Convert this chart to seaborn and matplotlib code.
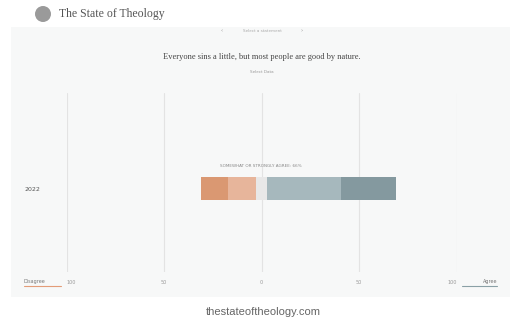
import matplotlib
matplotlib.use("Agg")
import matplotlib.pyplot as plt
import seaborn as sns
import pandas as pd
from matplotlib.patches import Rectangle, Ellipse
from matplotlib.lines import Line2D

# ---- data ----
years = ["2022"]
segments = ["Strongly disagree", "Somewhat disagree", "Not sure", "Somewhat agree", "Strongly agree"]
values = [14, 14, 6, 38, 28]
colors = ["#da9872", "#e7b59b", "#e8e8e8", "#a6b8bd", "#84999f"]
xticks = [-100, -50, 0, 50, 100]
xtick_labels = ["100", "50", "0", "50", "100"]
title = "Everyone sins a little, but most people are good by nature."
annotation = "SOMEWHAT OR STRONGLY AGREE: 66%"

sns.set_theme(style="white")
plt.rcParams["font.family"] = ["DejaVu Sans"]

W, H = 513, 324
fig = plt.figure(figsize=(W / 100, H / 100), dpi=100)
fig.patch.set_facecolor("white")


def fx(px):
    return px / W


def fy(py):
    return 1 - py / H


# panel background
fig.patches.append(Rectangle((fx(11), fy(297)), fx(510) - fx(11), fy(27) - fy(297),
                             transform=fig.transFigure, facecolor="#f7f8f8",
                             edgecolor="none", zorder=-5))

# header
fig.patches.append(Ellipse((fx(43), fy(14)), 16 / W, 16 / H, transform=fig.transFigure,
                           facecolor="#9a9a9a", edgecolor="none", zorder=-4))
fig.text(fx(59), fy(14), "The State of Theology", family="Liberation Serif",
         fontsize=8.5, color="#555555", va="center", ha="left")

# selector row
fig.text(fx(222), fy(31), "\u2039", fontsize=4, color="#999999", ha="center", va="center")
fig.text(fx(302), fy(31), "\u203a", fontsize=4, color="#999999", ha="center", va="center")
fig.text(fx(262), fy(31), "Select a statement", fontsize=3, color="#aaaaaa", ha="center", va="center")

# title + subtitle
fig.text(fx(262), fy(57), title, family="Liberation Serif", fontsize=6,
         color="#444444", ha="center", va="center")
fig.text(fx(262), fy(72), "Select Data", fontsize=3, color="#999999", ha="center", va="center")

# ---- axes ----
ax_top, ax_bot, ax_l, ax_r = 93, 272, 66.5, 456.5
ax = fig.add_axes([fx(ax_l), fy(ax_bot), fx(ax_r) - fx(ax_l), fy(ax_top) - fy(ax_bot)])
ax.set_facecolor("none")
ax.set_zorder(2)

half = values[2] / 2
ends = [
    -(half + values[1] + values[0]),
    -(half + values[1]),
    -half,
    half + values[3],
    half + values[3] + values[4],
]
# draw from largest magnitude to smallest so that shorter layers overlay longer
for i in [0, 1, 2, 4, 3]:
    df = pd.DataFrame({"value": [ends[i]], "year": years})
    sns.barplot(data=df, x="value", y="year", color=colors[i], saturation=1,
                width=0.8, linewidth=0, ax=ax)
df = pd.DataFrame({"value": [half], "year": years})
sns.barplot(data=df, x="value", y="year", color=colors[2], saturation=1,
            width=0.8, linewidth=0, ax=ax)

ax.set_xlim(-100, 100)
ax_h = ax_bot - ax_top
R = 0.8 * ax_h / 23
ytop = -(188.7 - ax_top) / ax_h * R
ax.set_ylim(ytop + R, ytop)

ax.set_xticks(xticks)
ax.set_xticklabels(xtick_labels)
ax.grid(axis="x", color="#e3e3e3", linewidth=0.8)
ax.grid(axis="y", visible=False)
ax.set_axisbelow(True)
for s in ax.spines.values():
    s.set_visible(False)
ax.tick_params(axis="x", length=0, pad=6, labelsize=3.5, labelcolor="#999999")
ax.tick_params(axis="y", length=0, pad=19, labelsize=4.5, labelcolor="#555555")
labs = ax.get_xticklabels()
labs[0].set_ha("left")
labs[-1].set_ha("right")
ax.set_xlabel("")
ax.set_ylabel("")

# annotation above bar
fig.text(fx(261), fy(166), annotation, fontsize=3, color="#888888", ha="center", va="center")

# legend-like end labels
fig.text(fx(24), fy(281), "Disagree", fontsize=3.5, color="#777777", ha="left", va="center")
fig.lines.append(Line2D([fx(24), fx(61)], [fy(286), fy(286)], transform=fig.transFigure,
                        color="#e39c78", linewidth=0.8))
fig.text(fx(497), fy(281), "Agree", fontsize=3.5, color="#777777", ha="right", va="center")
fig.lines.append(Line2D([fx(462), fx(497)], [fy(286), fy(286)], transform=fig.transFigure,
                        color="#8aa0a6", linewidth=0.8))

# footer
fig.text(fx(263), fy(312), "thestateoftheology.com", family="Liberation Sans",
         fontsize=8, color="#666666", ha="center", va="center")

fig.savefig("out.png", dpi=100, facecolor="white")
